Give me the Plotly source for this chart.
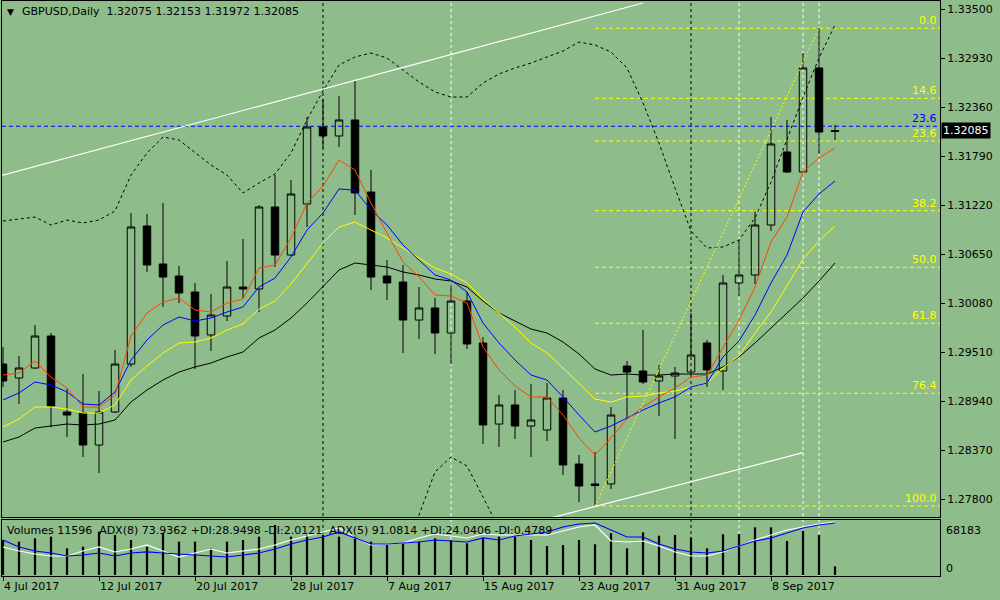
import pandas as pd
import plotly.graph_objects as go

BG = "#8fbc8b"
FONT = "DejaVu Sans"

# trading days shown on the chart (4 Jul .. 14 Sep 2017)
dates = pd.bdate_range("2017-07-04", periods=53)
bars = list(range(len(dates)))

opens = [1.29370, 1.29208, 1.29324, 1.29696, 1.28812, 1.28800, 1.28428, 1.28812, 1.29370, 1.30976,
         1.30534, 1.30394, 1.30208, 1.29708, 1.29929, 1.30266, 1.30243, 1.31197, 1.30638, 1.31232,
         1.32127, 1.32023, 1.32209, 1.31371, 1.30394, 1.30324, 1.29882, 1.30022, 1.29731, 1.30103,
         1.29615, 1.28672, 1.28894, 1.28649, 1.28603, 1.28975, 1.28207, 1.27975, 1.27975, 1.29347,
         1.29289, 1.29173, 1.29231, 1.29277, 1.29615, 1.29289, 1.30313, 1.30406, 1.30987, 1.31837,
         1.31604, 1.32814, 1.32075]
highs = [1.29568, 1.29464, 1.29824, 1.29731, 1.29080, 1.29254, 1.29056, 1.29533, 1.31127, 1.31115,
         1.31243, 1.30510, 1.30313, 1.30185, 1.30569, 1.30825, 1.31220, 1.31569, 1.31511, 1.32244,
         1.32453, 1.32488, 1.32663, 1.31627, 1.30580, 1.30522, 1.30266, 1.30138, 1.30289, 1.30208,
         1.29684, 1.29010, 1.29068, 1.29138, 1.29149, 1.29068, 1.28312, 1.28347, 1.28870, 1.29405,
         1.29766, 1.29359, 1.29336, 1.29964, 1.29650, 1.30406, 1.30813, 1.31139, 1.32244, 1.32209,
         1.32988, 1.33279, 1.32153]
lows = [1.29103, 1.28905, 1.29312, 1.28638, 1.28521, 1.28289, 1.28102, 1.28800, 1.29336, 1.30441,
        1.30034, 1.30080, 1.29312, 1.29522, 1.29871, 1.30138, 1.29975, 1.30499, 1.30627, 1.30964,
        1.31883, 1.31895, 1.31104, 1.30231, 1.30115, 1.29498, 1.29661, 1.29487, 1.29370, 1.29545,
        1.28440, 1.28405, 1.28498, 1.28289, 1.28475, 1.28079, 1.27765, 1.27719, 1.27916, 1.28742,
        1.29138, 1.28766, 1.28498, 1.29242, 1.29103, 1.29068, 1.30161, 1.30301, 1.30918, 1.31592,
        1.31604, 1.31813, 1.31972]
closes = [1.29173, 1.29324, 1.29696, 1.28882, 1.28777, 1.28428, 1.28812, 1.29370, 1.30964, 1.30522,
          1.30382, 1.30196, 1.29696, 1.29940, 1.30266, 1.30243, 1.31197, 1.30638, 1.31348, 1.32127,
          1.32023, 1.32209, 1.31360, 1.30382, 1.30313, 1.29882, 1.30022, 1.29731, 1.30103, 1.29603,
          1.28661, 1.28894, 1.28649, 1.28719, 1.28975, 1.28196, 1.27951, 1.27956, 1.28777, 1.29277,
          1.29161, 1.29231, 1.29266, 1.29475, 1.29301, 1.30313, 1.30406, 1.30987, 1.31930, 1.31604,
          1.32814, 1.32069, 1.32085]

ma_red = [1.29242, 1.29266, 1.29405, 1.29219, 1.29091, 1.28870, 1.28870, 1.29010, 1.29696, 1.29964,
          1.30092, 1.30138, 1.29999, 1.29975, 1.30080, 1.30127, 1.30487, 1.30522, 1.30836, 1.31243,
          1.31441, 1.31744, 1.31627, 1.31243, 1.30894, 1.30557, 1.30382, 1.30173, 1.30161, 1.30080,
          1.29568, 1.29301, 1.29115, 1.28987, 1.28987, 1.28777, 1.28510, 1.28312, 1.28510, 1.28731,
          1.28870, 1.28987, 1.29091, 1.29219, 1.29242, 1.29557, 1.29882, 1.30266, 1.30790, 1.31080,
          1.31604, 1.31767, 1.31883]
ma_blue = [1.28952, 1.29033, 1.29161, 1.29126, 1.29045, 1.28905, 1.28894, 1.29045, 1.29417, 1.29650,
           1.29824, 1.29917, 1.29871, 1.29905, 1.29975, 1.30034, 1.30266, 1.30371, 1.30615, 1.30929,
           1.31127, 1.31406, 1.31394, 1.31162, 1.30987, 1.30755, 1.30580, 1.30406, 1.30347, 1.30208,
           1.29847, 1.29615, 1.29417, 1.29242, 1.29184, 1.28987, 1.28777, 1.28579, 1.28649, 1.28742,
           1.28835, 1.28917, 1.28987, 1.29103, 1.29149, 1.29452, 1.29638, 1.29940, 1.30313, 1.30638,
           1.31139, 1.31348, 1.31499]
ma_yellow = [1.28638, 1.28731, 1.28870, 1.28870, 1.28847, 1.28800, 1.28800, 1.28894, 1.29184, 1.29347,
             1.29498, 1.29615, 1.29626, 1.29673, 1.29766, 1.29836, 1.30010, 1.30103, 1.30301, 1.30545,
             1.30778, 1.30964, 1.31022, 1.30929, 1.30836, 1.30720, 1.30603, 1.30487, 1.30417, 1.30313,
             1.30127, 1.29964, 1.29801, 1.29615, 1.29498, 1.29324, 1.29149, 1.28963, 1.28928, 1.28987,
             1.28998, 1.29033, 1.29056, 1.29103, 1.29149, 1.29324, 1.29464, 1.29731, 1.29975, 1.30278,
             1.30592, 1.30801, 1.30976]
ma_black = [1.28463, 1.28521, 1.28626, 1.28649, 1.28672, 1.28661, 1.28672, 1.28719, 1.28928, 1.29068,
            1.29184, 1.29277, 1.29336, 1.29382, 1.29452, 1.29510, 1.29673, 1.29766, 1.29905, 1.30080,
            1.30266, 1.30464, 1.30545, 1.30522, 1.30499, 1.30441, 1.30406, 1.30359, 1.30336, 1.30266,
            1.30103, 1.29964, 1.29871, 1.29777, 1.29731, 1.29626, 1.29487, 1.29312, 1.29242, 1.29254,
            1.29242, 1.29242, 1.29254, 1.29254, 1.29254, 1.29336, 1.29452, 1.29615, 1.29789, 1.29964,
            1.30138, 1.30336, 1.30545]

bb_upper = [1.31034, 1.31057, 1.31080, 1.30987, 1.31045, 1.31011, 1.31045, 1.31150, 1.31569, 1.31825,
            1.32011, 1.31976, 1.31825, 1.31685, 1.31569, 1.31360, 1.31476, 1.31581, 1.31825, 1.32209,
            1.32546, 1.32849, 1.32942, 1.32988, 1.32930, 1.32790, 1.32651, 1.32535, 1.32476, 1.32476,
            1.32639, 1.32744, 1.32814, 1.32872, 1.32942, 1.33011, 1.33116, 1.33081, 1.33000, 1.32814,
            1.32407, 1.31941, 1.31418, 1.30918, 1.30720, 1.30731, 1.30813, 1.31069, 1.31488, 1.31976,
            1.32476, 1.32930, 1.33314]
# lower band only dips into view in mid August
bb_lower_bars = [24, 25, 26, 27, 28, 29, 30, 31, 32]
bb_lower = [1.26858, 1.27323, 1.27614, 1.28114, 1.28289, 1.28184, 1.27823, 1.27439, 1.27090]

volumes = [47700, 45500, 50000, 52300, 36400, 38600, 59100, 54500, 47700, 38600,
           56800, 45500, 45500, 36400, 45500, 47700, 52300, 68183, 52300, 54500,
           54500, 52300, 52300, 45500, 40900, 43200, 45500, 50000, 47700, 43200,
           50000, 52300, 52300, 47700, 39500, 40900, 47700, 41900, 56900, 36400,
           58200, 53600, 54500, 50900, 36400, 55500, 55900, 65000, 65000, 46400,
           60000, 54500, 11596]
adx8 = [51.8, 44.6, 39.3, 35.7, 35.7, 44.6, 51.8, 42.9, 48.2, 55.4,
        44.6, 33.9, 41.1, 48.2, 41.1, 44.6, 48.2, 55.4, 64.3, 71.4,
        78.6, 85.7, 67.9, 55.4, 57.1, 58.9, 67.9, 75.0, 71.4, 67.9,
        75.0, 73.2, 73.2, 73.2, 73.2, 80.4, 87.5, 91.1, 62.5, 60.7,
        62.5, 53.6, 42.9, 35.7, 35.7, 42.9, 53.6, 64.3, 73.2, 82.1,
        87.5, 92.9, 96.4]
adx5 = [64.3, 51.8, 44.6, 41.1, 35.7, 37.5, 41.1, 35.7, 41.1, 42.9,
        41.1, 39.3, 37.5, 35.7, 33.9, 37.5, 41.1, 48.2, 57.1, 64.3,
        69.6, 78.6, 67.9, 57.1, 57.1, 58.9, 60.7, 64.3, 62.5, 60.7,
        67.9, 64.3, 71.4, 75.0, 78.6, 87.5, 92.9, 94.6, 82.1, 69.6,
        69.6, 57.1, 48.2, 42.9, 41.1, 44.6, 53.6, 62.5, 67.9, 76.8,
        85.7, 91.1, 94.6]

fib_start = 37
fib_labels = ["0.0", "14.6", "23.6", "38.2", "50.0", "61.8", "76.4", "100.0"]
fib_prices = [1.33276, 1.32461, 1.31965, 1.31154, 1.30495, 1.29844, 1.29030, 1.27719]
fib_trend_bars = [37, 51]
fib_trend_prices = [1.27719, 1.33279]
blue_level = 1.32136
blue_label = "23.6"

upper_trend_bars = [-1, 40]
upper_trend_prices = [1.31519, 1.33570]
lower_trend_bars = [33, 50]
lower_trend_prices = [1.27520, 1.28339]

vline_bars = [20, 28, 43, 46, 50, 51]
vline_colors = ["black", "white", "black", "white", "white", "white"]

price_ticks = [1.27800, 1.28370, 1.28940, 1.29510, 1.30080, 1.30650,
               1.31220, 1.31790, 1.32360, 1.32930, 1.33500]
date_ticks = list(range(0, 53, 6))

X_RANGE = [-0.0625, 58.5625]
Y_RANGE = [1.275906, 1.335931]


def px_x(px):
    return (px - 2) / 938


def px_y(py):
    return (576 - py) / 575


def main():
    fig = go.Figure()

    dotted = dict(color="black", width=1, dash="3px,3px")
    fig.add_trace(go.Scatter(x=bars, y=bb_upper, mode="lines", line=dotted))
    fig.add_trace(go.Scatter(x=bb_lower_bars, y=bb_lower, mode="lines", line=dotted))

    for vals, col in [(ma_black, "black"), (ma_yellow, "#ffff00"),
                      (ma_blue, "#0000ff"), (ma_red, "#ff4500")]:
        fig.add_trace(go.Scatter(x=bars, y=vals, mode="lines",
                                 line=dict(color=col, width=1)))

    fig.add_trace(go.Scatter(x=upper_trend_bars, y=upper_trend_prices, mode="lines",
                             line=dict(color="white", width=1.2)))
    fig.add_trace(go.Scatter(x=lower_trend_bars, y=lower_trend_prices, mode="lines",
                             line=dict(color="white", width=1.2)))
    fig.add_trace(go.Scatter(x=fib_trend_bars, y=fib_trend_prices, mode="lines",
                             line=dict(color="#ffff00", width=1, dash="2px,2px")))

    # price bars sit on top; bull bodies are hollow
    fig.add_trace(go.Candlestick(
        x=bars, open=opens, high=highs, low=lows, close=closes,
        increasing=dict(line=dict(color="black", width=1), fillcolor="rgba(0,0,0,0)"),
        decreasing=dict(line=dict(color="black", width=1), fillcolor="black"),
        whiskerwidth=0, hoverinfo="skip", xaxis="x", yaxis="y",
    ))

    # volume panel
    fig.add_trace(go.Bar(x=bars, y=volumes, width=0.14, marker_color="black",
                         marker_line_width=0, xaxis="x2", yaxis="y2"))
    fig.add_trace(go.Scatter(x=bars, y=adx8, mode="lines", line=dict(color="white", width=1.2),
                             xaxis="x2", yaxis="y3"))
    fig.add_trace(go.Scatter(x=bars, y=adx5, mode="lines", line=dict(color="#0000ff", width=1.2),
                             xaxis="x2", yaxis="y3"))

    shapes = []
    for b, col in zip(vline_bars, vline_colors):
        shapes.append(dict(type="line", xref="x", yref="paper", x0=b, x1=b, y0=0, y1=1,
                           layer="below", line=dict(color=col, width=1, dash="3px,3px")))
    for p in fib_prices:
        shapes.append(dict(type="line", xref="x", yref="y", x0=fib_start, x1=X_RANGE[1],
                           y0=p, y1=p, layer="below",
                           line=dict(color="#ffff00", width=1, dash="4px,3px")))
    shapes.append(dict(type="line", xref="x", yref="y", x0=X_RANGE[0], x1=X_RANGE[1],
                       y0=blue_level, y1=blue_level, layer="below",
                       line=dict(color="#0000ff", width=1, dash="4px,3px")))

    small = dict(family=FONT, size=11, color="black")
    ann = []
    for lab, p in zip(fib_labels, fib_prices):
        ann.append(dict(xref="paper", yref="y", x=px_x(939), y=p, text=lab, showarrow=False,
                        xanchor="right", yanchor="bottom", yshift=-1,
                        font=dict(family=FONT, size=11, color="#ffff00")))
    ann.append(dict(xref="paper", yref="y", x=px_x(939), y=blue_level, text=blue_label,
                    showarrow=False, xanchor="right", yanchor="bottom", yshift=-1,
                    font=dict(family=FONT, size=11, color="#0000ff")))
    ann.append(dict(xref="paper", yref="y", x=px_x(941), y=closes[-1],
                    text=f"{closes[-1]:.5f}", showarrow=False, xanchor="left",
                    yanchor="middle", bgcolor="black", borderpad=1,
                    font=dict(family=FONT, size=11, color="white")))
    ann.append(dict(xref="paper", yref="paper", x=px_x(5), y=px_y(12), text="▼",
                    showarrow=False, xanchor="left", yanchor="middle",
                    font=dict(family=FONT, size=9, color="black")))
    header = (f"GBPUSD,Daily  {opens[-1]:.5f} {highs[-1]:.5f} "
              f"{lows[-1]:.5f} {closes[-1]:.5f}")
    ann.append(dict(xref="paper", yref="paper", x=px_x(20), y=px_y(12), text=header,
                    showarrow=False, xanchor="left", yanchor="middle", font=small))
    vol_text = (f"Volumes {volumes[-1]}  ADX(8) 73.9362 +DI:28.9498 -DI:2.0121  "
                "ADX(5) 91.0814 +DI:24.0406 -DI:0.4789")
    ann.append(dict(xref="paper", yref="paper", x=px_x(5), y=px_y(530), text=vol_text,
                    showarrow=False, xanchor="left", yanchor="middle", font=small))
    ann.append(dict(xref="paper", yref="paper", x=px_x(944), y=px_y(530), text=str(max(volumes)),
                    showarrow=False, xanchor="left", yanchor="middle", font=small))
    ann.append(dict(xref="paper", yref="paper", x=px_x(944), y=px_y(568), text="0",
                    showarrow=False, xanchor="left", yanchor="middle", font=small))

    border = dict(showline=True, mirror=True, linecolor="black", linewidth=1,
                  showgrid=False, zeroline=False)
    fig.update_layout(
        width=1000, height=600,
        margin=dict(l=2, r=60, t=1, b=24),
        paper_bgcolor=BG, plot_bgcolor=BG,
        showlegend=False, hovermode=False,
        boxgap=0.33,
        xaxis=dict(domain=[0, 1], range=X_RANGE, anchor="y", showticklabels=False,
                   ticks="", rangeslider=dict(visible=False), **border),
        yaxis=dict(domain=[0.1026, 1], range=Y_RANGE, anchor="x", side="right",
                   tickvals=price_ticks, ticktext=[f"{v:.5f}" for v in price_ticks],
                   ticks="outside", ticklen=4, tickcolor="black", tickfont=small, **border),
        xaxis2=dict(domain=[0, 1], range=X_RANGE, anchor="y2",
                    tickvals=date_ticks,
                    ticktext=[dates[i].strftime("%-d %b %Y") for i in date_ticks],
                    ticks="outside", ticklen=4, tickcolor="black",
                    ticklabelposition="outside right", tickfont=small, **border),
        yaxis2=dict(domain=[0, 0.0974], range=[-1364, 75001], anchor="x2", side="right",
                    showticklabels=False, ticks="", **border),
        yaxis3=dict(overlaying="y2", anchor="x2", range=[0, 100], visible=False),
        shapes=shapes,
        annotations=ann,
    )

    # the page body has a default 8px margin; drop it so the chart sits at the corner
    fig.write_html("out.html", config={"displayModeBar": False},
                   post_script="document.body.style.margin = '0px';")


if __name__ == "__main__":
    main()
